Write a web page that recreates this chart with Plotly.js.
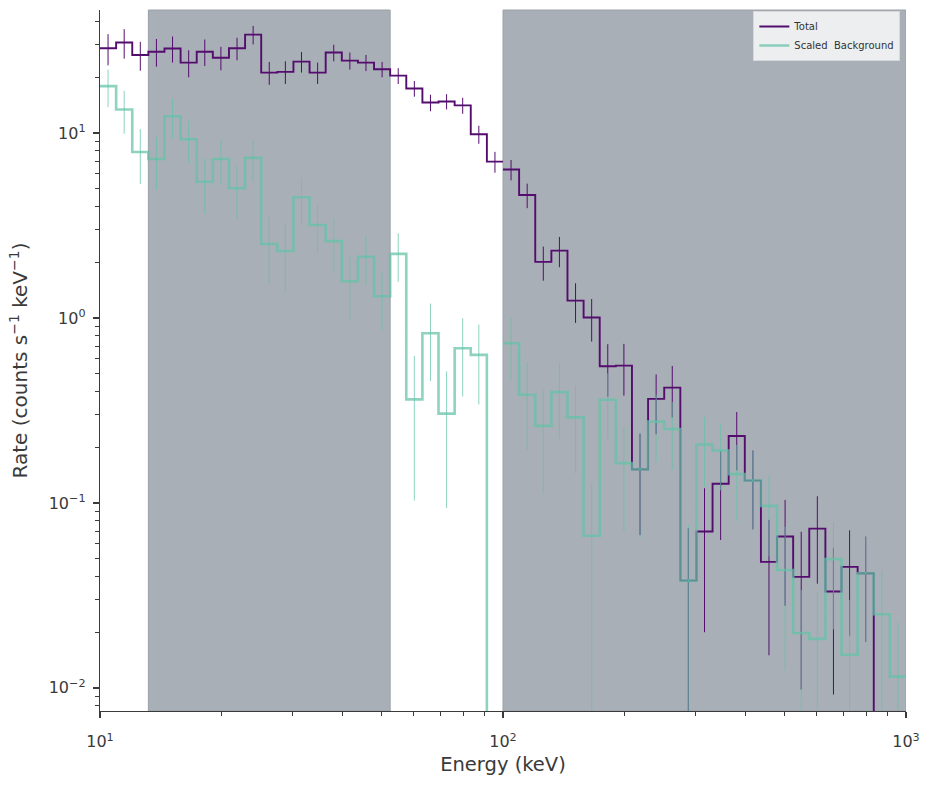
<!DOCTYPE html>
<html>
<head>
<meta charset="utf-8">
<script src="https://cdn.plot.ly/plotly-3.0.1.min.js"></script>
<style>html,body{margin:0;padding:0;background:#fff;}#chart{width:930px;height:786px;}</style>
</head>
<body>
<div id="chart"></div>
<script>
// Energy bin edges (keV), 50 log bins from 10 to 1000
const binEdges = [10, 10.965, 12.023, 13.183, 14.454, 15.849, 17.378, 19.055, 20.893, 22.909,
  25.119, 27.542, 30.200, 33.113, 36.308, 39.811, 43.652, 47.863, 52.481, 57.544,
  63.096, 69.183, 75.858, 83.176, 91.201, 100, 109.65, 120.23, 131.83, 144.54,
  158.49, 173.78, 190.55, 208.93, 229.09, 251.19, 275.42, 301.99, 331.13, 363.08,
  398.11, 436.52, 478.63, 524.81, 575.44, 630.96, 691.83, 758.58, 831.76, 912.01, 1000];
// index where the data are split into separate groups (no connecting line)
const groupStarts = [0, 25];

// Total rate (counts s^-1 keV^-1); 0 = non-positive (off the log axis)
const totalRate = [28.7, 30.8, 26.4, 27.5, 28.6, 24.0, 27.5, 25.5, 28.7, 34.0,
  21.2, 21.4, 24.3, 21.2, 27.2, 24.6, 24.0, 22.1, 20.4, 17.4,
  14.6, 14.8, 14.1, 9.84, 7.00, 6.34, 4.62, 2.01, 2.31, 1.24,
  1.005, 0.548, 0.552, 0.152, 0.365, 0.42, 0.038, 0.070, 0.127, 0.230,
  0.132, 0.048, 0.0658, 0.0398, 0.0726, 0.0332, 0.0451, 0.0417, 0, 0];
const totalErr = [5.5, 5.6, 4.7, 4.7, 4.6, 4.0, 4.5, 3.7, 4.0, 3.9,
  3.0, 3.0, 3.1, 2.8, 2.8, 2.6, 2.4, 2.1, 2.0, 1.7,
  1.5, 1.4, 1.4, 1.1, 0.9, 0.8, 0.7, 0.42, 0.43, 0.3,
  0.26, 0.173, 0.172, 0.085, 0.13, 0.13, 0.035, 0.05, 0.064, 0.08,
  0.06, 0.033, 0.038, 0.03, 0.036, 0.024, 0.026, 0.024, 0, 0];

// Scaled background rate
const bkgRate = [17.9, 13.4, 7.89, 7.23, 12.3, 9.25, 5.45, 7.23, 5.02, 7.33,
  2.51, 2.30, 4.49, 3.18, 2.60, 1.58, 2.14, 1.31, 2.22, 0.363,
  0.826, 0.304, 0.686, 0.631, 0, 0.729, 0.384, 0.261, 0.397, 0.290,
  0.0665, 0.361, 0.164, 0.152, 0.275, 0.251, 0.038, 0.207, 0.192, 0.143,
  0.132, 0.0964, 0.0434, 0.0198, 0.0184, 0.0497, 0.0151, 0.0417, 0.025, 0.0115];
const bkgErr = [4.1, 3.5, 2.6, 2.3, 3.0, 2.4, 1.8, 2.0, 1.6, 1.9,
  1.0, 0.95, 1.25, 0.95, 0.85, 0.6, 0.63, 0.45, 0.65, 0.26,
  0.37, 0.21, 0.31, 0.29, 0, 0.27, 0.19, 0.15, 0.175, 0.145,
  0.062, 0.14, 0.094, 0.087, 0.11, 0.1, 0.038, 0.085, 0.075, 0.063,
  0.06, 0.045, 0.031, 0.014, 0.015, 0.029, 0.0148, 0.024, 0.018, 0.011];

// Excluded energy ranges (shaded)
const excludedRanges = [[13.183, 52.481], [100, 1000]];

const seriesNames = ['Total', 'Scaled\u00a0 Background'];
const xTickVals = [10, 100, 1000];
const xTickText = ['10<sup>1</sup>', '10<sup>2</sup>', '10<sup>3</sup>'];
const yTickVals = [0.01, 0.1, 1, 10];
const yTickText = ['10<sup>\u22122</sup>', '10<sup>\u22121</sup>', '10<sup>0</sup>', '10<sup>1</sup>'];

const FLOOR = 1e-5; // non-positive values are clipped below the log axis
const clip = v => (v > 0 ? v : FLOOR);

function stepXY(vals) {
  const xs = [], ys = [];
  const n = vals.length;
  for (let g = 0; g < groupStarts.length; g++) {
    const a = groupStarts[g];
    const b = g + 1 < groupStarts.length ? groupStarts[g + 1] : n;
    for (let i = a; i < b; i++) { xs.push(binEdges[i]); ys.push(clip(vals[i])); }
    xs.push(binEdges[b]); ys.push(clip(vals[b - 1]));
    if (g + 1 < groupStarts.length) { xs.push(null); ys.push(null); }
  }
  return {xs, ys};
}
const centers = totalRate.map((_, i) => Math.sqrt(binEdges[i] * binEdges[i + 1]));

const purple = '#540d6e';
const teal = 'rgba(98,194,168,0.72)';

const tStep = stepXY(totalRate);
const bStep = stepXY(bkgRate);

const traces = [
  {x: tStep.xs, y: tStep.ys, type: 'scatter', mode: 'lines', name: seriesNames[0],
   line: {shape: 'hv', color: purple, width: 1.9}, connectgaps: false},
  {x: centers, y: totalRate.map(v => v > 0 ? v : null), type: 'scatter', mode: 'markers',
   marker: {size: 1, color: 'rgba(0,0,0,0)'}, showlegend: false, hoverinfo: 'skip',
   error_y: {type: 'data', array: totalErr, symmetric: true, color: purple, thickness: 1, width: 0}},
  {x: bStep.xs, y: bStep.ys, type: 'scatter', mode: 'lines', name: seriesNames[1],
   line: {shape: 'hv', color: teal, width: 2.6}, connectgaps: false},
  {x: centers, y: bkgRate.map(v => v > 0 ? v : null), type: 'scatter', mode: 'markers',
   marker: {size: 1, color: 'rgba(0,0,0,0)'}, showlegend: false, hoverinfo: 'skip',
   error_y: {type: 'data', array: bkgErr, symmetric: true, color: teal, thickness: 1, width: 0}}
];

function minorVals(lo, hi) {
  const out = [];
  for (let d = lo; d < hi; d++) for (let m = 2; m <= 9; m++) out.push(m * Math.pow(10, d));
  return out;
}

const axisCommon = {
  type: 'log', showgrid: false, zeroline: false, showline: true,
  linecolor: '#3a3a3a', linewidth: 1.25, ticks: 'outside', ticklen: 6, tickwidth: 1.25,
  tickcolor: '#3a3a3a', tickfont: {family: 'DejaVu Sans', size: 16, color: '#3a3a3a'},
  tickmode: 'array', mirror: false
};

const layout = {
  width: 930, height: 786,
  margin: {l: 100, r: 24, t: 10, b: 75},
  paper_bgcolor: '#ffffff', plot_bgcolor: '#ffffff',
  font: {family: 'DejaVu Sans', color: '#3a3a3a'},
  xaxis: Object.assign({}, axisCommon, {
    range: [1, 3], tickvals: xTickVals, ticktext: xTickText, ticklabelstandoff: 10,
    minor: {tickmode: 'array', tickvals: minorVals(1, 3), ticks: 'outside', ticklen: 3.5, tickwidth: 1, tickcolor: '#3a3a3a'},
    title: {text: 'Energy (keV)', font: {size: 19.5, color: '#3a3a3a'}, standoff: 7}
  }),
  yaxis: Object.assign({}, axisCommon, {
    range: [Math.log10(0.0075), Math.log10(46.2)], tickvals: yTickVals, ticktext: yTickText, ticklabelstandoff: 4,
    minor: {tickmode: 'array', tickvals: minorVals(-3, 2), ticks: 'outside', ticklen: 3.5, tickwidth: 1, tickcolor: '#3a3a3a'},
    title: {text: 'Rate (counts s<sup>\u22121</sup> keV<sup>\u22121</sup>)', font: {size: 20, color: '#3a3a3a'}, standoff: 15}
  }),
  shapes: excludedRanges.map(r => ({
    type: 'rect', xref: 'x', yref: 'paper', x0: r[0], x1: r[1], y0: 0, y1: 1,
    fillcolor: '#a9afb6', line: {width: 1, color: '#9aa1a9'}, layer: 'below'
  })),
  legend: {
    x: 0.993, y: 0.9986, xanchor: 'right', yanchor: 'top',
    bgcolor: 'rgba(239,241,243,0.95)', bordercolor: '#d6d9dc', borderwidth: 1,
    font: {family: 'DejaVu Sans', size: 10, color: '#333'},
    itemwidth: 30, tracegroupgap: 0
  },
  showlegend: true
};

Plotly.newPlot('chart', traces, layout, {displayModeBar: false, staticPlot: true});
</script>
</body>
</html>
